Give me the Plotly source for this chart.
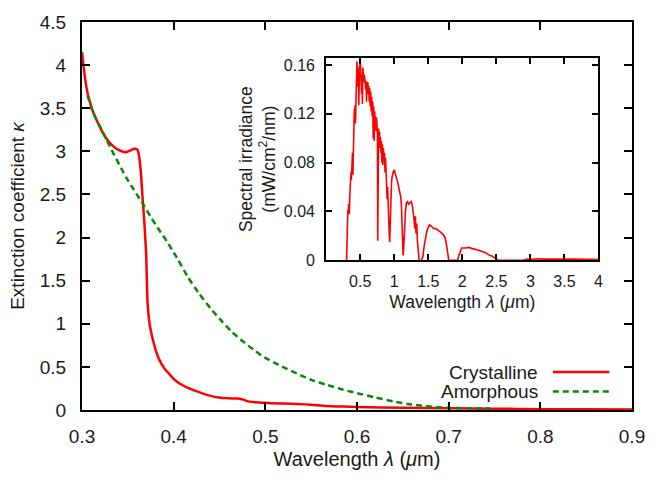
import plotly.graph_objects as go

# ---- main chart data ----
cryst_wl = [0.300, 0.302, 0.304, 0.306, 0.309, 0.312, 0.316, 0.320, 0.3266, 0.334,
            0.341, 0.348, 0.353, 0.357, 0.3605, 0.3626, 0.3645, 0.366, 0.368, 0.370,
            0.3715, 0.374, 0.377, 0.380, 0.384, 0.390, 0.395, 0.400, 0.406, 0.415,
            0.427, 0.438, 0.449, 0.460, 0.470, 0.476, 0.481, 0.490, 0.503, 0.520,
            0.535, 0.550, 0.567, 0.585, 0.600, 0.650, 0.700, 0.750, 0.800, 0.850, 0.900]
cryst_k = [4.15, 3.96, 3.80, 3.68, 3.56, 3.46, 3.36, 3.27, 3.15, 3.06,
           3.01, 2.99, 3.01, 3.03, 3.02, 2.92, 2.72, 2.47, 2.18, 1.80,
           1.25, 0.98, 0.83, 0.71, 0.59, 0.48, 0.42, 0.36, 0.31, 0.26,
           0.21, 0.17, 0.145, 0.135, 0.133, 0.12, 0.10, 0.09, 0.08, 0.075,
           0.07, 0.06, 0.045, 0.04, 0.035, 0.025, 0.02, 0.015, 0.01, 0.008, 0.006]

amor_wl = [0.306, 0.312, 0.319, 0.3266, 0.334, 0.341, 0.348, 0.355, 0.361, 0.367,
           0.375, 0.384, 0.393, 0.3987, 0.405, 0.415, 0.427, 0.440, 0.450, 0.463,
           0.475, 0.487, 0.499, 0.515, 0.535, 0.550, 0.5675, 0.585, 0.600, 0.620,
           0.6395, 0.655, 0.675, 0.690, 0.700, 0.720, 0.745]
amor_k = [3.65, 3.45, 3.30, 3.14, 2.98, 2.84, 2.70, 2.58, 2.48, 2.38,
          2.24, 2.09, 1.95, 1.85, 1.74, 1.55, 1.36, 1.18, 1.06, 0.91,
          0.80, 0.70, 0.61, 0.52, 0.42, 0.35, 0.29, 0.235, 0.195, 0.145,
          0.10, 0.07, 0.045, 0.032, 0.025, 0.02, 0.018]

main_xticks = [0.3, 0.4, 0.5, 0.6, 0.7, 0.8, 0.9]
main_yticks = [0, 0.5, 1, 1.5, 2, 2.5, 3, 3.5, 4, 4.5]

# ---- inset (solar spectrum) data ----
sun_wl = [0.280, 0.300, 0.306, 0.312, 0.318, 0.324, 0.330, 0.336, 0.340, 0.346,
          0.352, 0.358, 0.364, 0.370, 0.375, 0.380, 0.386, 0.392, 0.397, 0.402,
          0.407, 0.413, 0.419, 0.425, 0.430, 0.436, 0.441, 0.447, 0.452, 0.458,
          0.463, 0.468, 0.474, 0.479, 0.484, 0.490, 0.495, 0.500, 0.505, 0.510,
          0.516, 0.521, 0.527, 0.532, 0.538, 0.543, 0.549, 0.555, 0.561, 0.567,
          0.573, 0.580, 0.586, 0.592, 0.598, 0.604, 0.611, 0.618, 0.625, 0.632,
          0.640, 0.647, 0.654, 0.661, 0.668, 0.676, 0.684, 0.691, 0.698, 0.705,
          0.712, 0.719, 0.726, 0.733, 0.740, 0.747, 0.753, 0.757, 0.761, 0.765,
          0.770, 0.776, 0.783, 0.790, 0.797, 0.804, 0.811, 0.818, 0.825, 0.832,
          0.840, 0.848, 0.856, 0.864, 0.872, 0.880, 0.888, 0.895, 0.902, 0.910,
          0.918, 0.926, 0.933, 0.938, 0.944, 0.952, 0.960, 0.970, 0.980, 0.990,
          1.000, 1.010, 1.022, 1.035, 1.050, 1.065, 1.080, 1.095, 1.105, 1.115,
          1.125, 1.130, 1.138, 1.145, 1.155, 1.165, 1.178, 1.195, 1.210, 1.230,
          1.250, 1.265, 1.280, 1.290, 1.300, 1.310, 1.320, 1.330, 1.340, 1.350,
          1.365, 1.400, 1.420, 1.440, 1.460, 1.480, 1.500, 1.517, 1.545, 1.575,
          1.610, 1.640, 1.680, 1.720, 1.750, 1.770, 1.790, 1.800, 1.830, 1.930,
          1.950, 1.970, 1.990, 2.050, 2.100, 2.150, 2.200, 2.250, 2.300, 2.350,
          2.400, 2.450, 2.500, 2.520, 2.900, 2.950, 3.000, 3.100, 3.200, 3.300,
          3.400, 3.500, 3.600, 3.700, 3.800, 3.900, 4.000]
sun_irr = [0.0, 0.0, 0.015, 0.032, 0.041, 0.038, 0.046, 0.040, 0.038, 0.052,
           0.060, 0.055, 0.072, 0.066, 0.085, 0.080, 0.088, 0.070, 0.082, 0.118,
           0.113, 0.124, 0.119, 0.127, 0.112, 0.138, 0.148, 0.156, 0.163, 0.150,
           0.158, 0.142, 0.152, 0.127, 0.150, 0.160, 0.154, 0.165, 0.158, 0.150,
           0.157, 0.136, 0.152, 0.128, 0.158, 0.150, 0.155, 0.146, 0.152, 0.144,
           0.150, 0.140, 0.147, 0.130, 0.145, 0.138, 0.146, 0.136, 0.143, 0.130,
           0.141, 0.126, 0.138, 0.122, 0.134, 0.118, 0.130, 0.100, 0.126, 0.098,
           0.122, 0.112, 0.118, 0.106, 0.117, 0.110, 0.104, 0.016, 0.040, 0.095,
           0.108, 0.100, 0.105, 0.092, 0.101, 0.088, 0.098, 0.080, 0.095, 0.078,
           0.092, 0.083, 0.088, 0.072, 0.084, 0.070, 0.066, 0.050, 0.060, 0.040,
           0.030, 0.022, 0.015, 0.028, 0.042, 0.055, 0.064, 0.069, 0.072, 0.073,
           0.074, 0.072, 0.071, 0.068, 0.064, 0.060, 0.057, 0.052, 0.045, 0.032,
           0.014, 0.004, 0.010, 0.020, 0.030, 0.040, 0.047, 0.048, 0.046, 0.047,
           0.048, 0.045, 0.040, 0.034, 0.026, 0.036, 0.022, 0.030, 0.016, 0.006,
           0.0, 0.0, 0.003, 0.012, 0.020, 0.024, 0.027, 0.029, 0.028, 0.026,
           0.026, 0.025, 0.023, 0.021, 0.018, 0.012, 0.004, 0.0, 0.0, 0.0,
           0.004, 0.008, 0.010, 0.010, 0.0105, 0.0095, 0.009, 0.008, 0.007, 0.006,
           0.004, 0.003, 0.001, 0.0, 0.0, 0.001, 0.0008, 0.0012, 0.0009, 0.0011,
           0.0008, 0.0010, 0.0009, 0.0008, 0.0007, 0.0007, 0.0006]

inset_xticks = [0.5, 1, 1.5, 2, 2.5, 3, 3.5, 4]
inset_yticks = [0, 0.04, 0.08, 0.12, 0.16]
inset_yticktext = ["0", "0.04", "0.08", "0.12", "0.16"]

legend_names = ["Crystalline", "Amorphous"]

RED = "#ff0000"
GREEN = "#0a870a"
FONT = "Liberation Sans, Arial, sans-serif"

fig = go.Figure()
fig.add_trace(go.Scatter(x=cryst_wl, y=cryst_k, mode="lines", name=legend_names[0],
                         line=dict(color=RED, width=2.5, shape="spline", smoothing=0.5),
                         xaxis="x", yaxis="y", showlegend=False))
fig.add_trace(go.Scatter(x=amor_wl, y=amor_k, mode="lines", name=legend_names[1],
                         line=dict(color=GREEN, width=2.5, dash="6px,4px", shape="spline", smoothing=0.5),
                         xaxis="x", yaxis="y", showlegend=False))
fig.add_trace(go.Scatter(x=sun_wl, y=sun_irr, mode="lines", name="AM1.5",
                         line=dict(color=RED, width=1.6),
                         xaxis="x2", yaxis="y2", showlegend=False))

axis_common = dict(showline=True, linecolor="black", mirror="ticks", ticks="inside",
                   tickcolor="black", showgrid=False, zeroline=False)

fig.update_layout(
    width=657, height=479,
    margin=dict(l=82, r=19, t=15, b=65),
    paper_bgcolor="white", plot_bgcolor="white",
    font=dict(family=FONT, size=19, color="#1a1a1a"),
    xaxis=dict(**axis_common, range=[0.3, 0.9], tickvals=main_xticks, linewidth=2,
               ticklen=8, tickwidth=2, ticklabelstandoff=8,
               title=dict(text="Wavelength <i>λ</i> (<i>μ</i>m)", standoff=6, font=dict(size=20))),
    yaxis=dict(**axis_common, range=[0, 4.5], tickvals=main_yticks, linewidth=2,
               ticklen=8, tickwidth=2, ticklabelstandoff=10,
               title=dict(text="Extinction coefficient <i>κ</i>", standoff=10, font=dict(size=19))),
    xaxis2=dict(**axis_common, domain=[0.444, 0.939], anchor="y2", range=[0, 4],
                tickvals=inset_xticks, linewidth=2, ticklen=6, tickwidth=2,
                ticklabelstandoff=6, tickfont=dict(size=16),
                title=dict(text="Wavelength <i>λ</i> (<i>μ</i>m)", standoff=6, font=dict(size=17.5))),
    yaxis2=dict(**axis_common, domain=[0.386, 0.907], anchor="x2", range=[0, 0.1657],
                tickvals=inset_yticks, ticktext=inset_yticktext, linewidth=2, ticklen=6,
                tickwidth=2, ticklabelstandoff=6, tickfont=dict(size=16),
                title=dict(text="Spectral irradiance<br>(mW/cm<sup>2</sup>/nm)", standoff=4,
                           font=dict(size=17.5))),
)

# legend drawn gnuplot style: text on the left, line sample on the right
leg_y = [0.0977, 0.0476]
leg_styles = [dict(color=RED, width=2.5), dict(color=GREEN, width=2.5, dash="6px,4px")]
for name, yy, st in zip(legend_names, leg_y, leg_styles):
    fig.add_annotation(x=0.8327, y=yy, xref="paper", yref="paper", text=name,
                       showarrow=False, xanchor="right", yanchor="middle",
                       font=dict(size=19, family=FONT, color="#1a1a1a"))
    fig.add_shape(type="line", xref="paper", yref="paper", x0=0.856, x1=0.959,
                  y0=yy, y1=yy, line=st)

fig.write_html("out.html")
